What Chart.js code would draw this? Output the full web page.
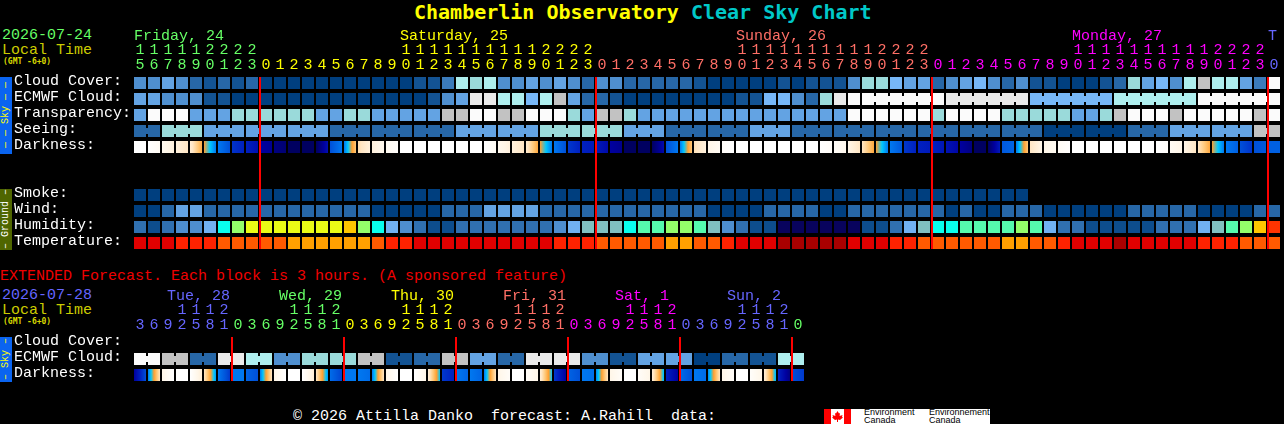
<!DOCTYPE html>
<html>
<head>
<meta charset="utf-8">
<title>Chamberlin Observatory Clear Sky Chart</title>
<script src="https://cdn.jsdelivr.net/npm/chart.js@4"></script>
<style>
    html, body { margin: 0; padding: 0; background: #000; width: 1284px; height: 424px; overflow: hidden; }
    canvas { position: absolute; left: 0; }
    .t { position: absolute; font: 15px/15px "Liberation Mono", monospace; white-space: pre; }
    .tiny { font: bold 8px/8px "DejaVu Sans Mono", monospace; color: #d8d800; }
    .side { position: absolute; left: 0; width: 12px; display: flex; align-items: center; justify-content: center;
            font: 10px/12px "Liberation Mono", monospace; white-space: pre; }
    .side span { writing-mode: vertical-rl; transform: rotate(180deg); }
    .logo { position: absolute; left: 824px; top: 409px; width: 166px; height: 15px; background: #fff; overflow: hidden; }
    .logo i { position: absolute; top: 0; width: 7px; height: 15px; background: #f00; }
    .logo svg { position: absolute; left: 8px; top: 2px; }
    .logo b { position: absolute; top: 0; font: 9px/7.5px "Liberation Sans", sans-serif; color: #000; white-space: pre; }
</style>
</head>
<body>
<div class="t" style="left:414px;top:0;font:bold 20px/24px 'DejaVu Sans Mono',monospace;color:#ffff00">Chamberlin Observatory <span style="color:#00c8c8">Clear Sky Chart</span></div>
<div class="t" style="left:2px;top:28px;color:#66ff66">2026-07-24</div>
<div class="t" style="left:2px;top:43px;color:#cccc00">Local Time</div>
<div class="t tiny" style="left:3px;top:58px">(GMT -6+0)</div>
<div class="side" style="top:77px;height:77px;background:#0a64f0;color:#ffff00"><span>— — Sky — —</span></div>
<div class="side" style="top:189px;height:61px;background:#4f6600;color:#fff"><span>– Ground –</span></div>
<div class="t" style="left:0;top:269px;color:#f00000">EXTENDED Forecast. Each block is 3 hours. (A sponsored feature)</div>
<div class="t" style="left:2px;top:288px;color:#6666ff">2026-07-28</div>
<div class="t" style="left:2px;top:303px;color:#cccc00">Local Time</div>
<div class="t tiny" style="left:3px;top:318px">(GMT -6+0)</div>
<div class="side" style="top:337px;height:45px;background:#0a64f0;color:#ffff00"><span>– Sky –</span></div>
<div class="t" style="left:293px;top:409px;color:#fff">© 2026 Attilla Danko  forecast: A.Rahill  data:</div>
<div class="logo">
    <i style="left:0"></i><i style="left:20px"></i>
    <svg width="11" height="11" viewBox="0 0 11 11"><path fill="#f00" d="M5.5 0 7 2.5 8 2 7.6 5 10.5 4 10 6 11 6.500 8 9 6 8.500V11H5V8.500L3 9 0 6.500 1 6 .5 4 3.400 5 3 2 4 2.500z"/></svg>
    <b style="left:40px">Environment
Canada</b>
    <b style="left:105px">Environnement
Canada</b>
</div>
<canvas id="mainChart" width="1284" height="260" style="top:0"></canvas>
<canvas id="extChart" width="1284" height="127" style="top:265px"></canvas>

<script>
// Forecast data
const mainHours = [15, 16, 17, 18, 19, 20, 21, 22, 23,
    0, 1, 2, 3, 4, 5, 6, 7, 8, 9, 10, 11, 12, 13, 14, 15, 16, 17, 18, 19, 20, 21, 22, 23,
    0, 1, 2, 3, 4, 5, 6, 7, 8, 9, 10, 11, 12, 13, 14, 15, 16, 17, 18, 19, 20, 21, 22, 23,
    0, 1, 2, 3, 4, 5, 6, 7, 8, 9, 10, 11, 12, 13, 14, 15, 16, 17, 18, 19, 20, 21, 22, 23,
    0];
const mainDayNames = ['Friday, 24', 'Saturday, 25', 'Sunday, 26', 'Monday, 27', 'T'];
const mainDayCols = [0, 19, 43, 67, 81];
const mainRows = ['Cloud Cover:', 'ECMWF Cloud:', 'Transparency:', 'Seeing:', 'Darkness:', '', '', 'Smoke:', 'Wind:', 'Humidity:', 'Temperature:'];

const cloudCover = [4, 4, 5, 4, 2, 1, 2, 1, 2, 0,
    0, 0, 0, 0, 0, 0, 0, 0, 0, 0,
    1, 1, 3, 8, 7, 8, 4, 4, 5, 4,
    5, 4, 2, 4, 4, 2, 2, 2, 2, 2,
    1, 0, 0, 0, 0, 0, 1, 0, 1, 1,
    1, 4, 7, 7, 6, 5, 5, 2, 4, 5,
    6, 4, 2, 4, 1, 1, 0, 0, 0, 1,
    2, 7, 5, 6, 4, 8, 9, 8, 8, 5, 3, 11];
const ecmwfCloud = [5, 5, 4, 4, 4, 1, 1, 0, 0, 0,
    0, 0, 0, 0, 0, 0, 0, 0, 0, 0,
    0, 1, 4, 5, 10, 10, 8, 8, 6, 8,
    9, 5, 2, 2, 1, 0, 0, 0, 0, 0,
    0, 0, 0, 1, 1, 6, 6, 4, 2, 7,
    10, 11, 11, 11, 11, 11, 11, 11, 10, 10,
    10, 10, 10, 10, 6, 6, 6, 6, 6, 6,
    8, 8, 8, 8, 8, 8, 11, 11, 11, 11, 11, 11];
const transparency = [5, 11, 11, 11, 5, 5, 5, 7, 7, 7,
    7, 7, 7, 5, 5, 7, 7, 5, 5, 5,
    5, 5, 9, 9, 11, 11, 9, 9, 11, 11,
    11, 7, 5, 9, 9, 7, 5, 5, 5, 5,
    5, 5, 5, 5, 5, 5, 5, 5, 5, 5,
    5, 11, 11, 11, 11, 11, 11, 7, 11, 11,
    11, 11, 7, 7, 7, 7, 7, 5, 5, 7,
    9, 11, 11, 11, 9, 11, 11, 11, 11, 11, 9, 11];
const seeing = [2, 2, 7, 7, 7, 5, 5, 5, 5, 5,
    5, 5, 5, 5, 2, 2, 2, 2, 2, 2,
    2, 2, 2, 5, 5, 5, 5, 5, 5, 7,
    7, 7, 7, 7, 7, 5, 5, 5, 2, 2,
    2, 2, 2, 2, 5, 5, 5, 2, 2, 2,
    2, 2, 2, 2, 2, 2, 2, 2, 2, 2,
    2, 2, 2, 2, 2, 0, 0, 0, 0, 0,
    0, 2, 2, 2, 5, 5, 5, 5, 5, 5, 9, 9];
const darkFrom = [0, 0, 0.7, 1.3, 1.5, 4, 6, 7.6, 8, 9,
    9.5, 10, 10, 10, 7, 6, 2.3, 1.3, 0.6, 0,
    0, 0, 0, 0, 0, 0, 0.7, 1.3, 1.7, 4,
    6, 7.5, 8, 8.2, 9, 10, 10, 10, 7, 6,
    2.2, 1, 0.3, 0, 0, 0, 0, 0, 0, 0,
    0.3, 1, 2, 4, 6, 7.5, 8, 8, 8.4, 9,
    10, 10, 6.8, 6, 2, 1, 0.5, 0, 0, 0,
    0, 0, 0, 0, 0.5, 1, 2, 4, 6, 7, 7, 6.6];
const darkTo = [0, 0.5, 1.3, 2, 3.7, 6, 7, 8, 8.5, 9.2,
    9.7, 10, 10, 8.5, 6, 3, 1.3, 0.8, 0.2, 0,
    0, 0, 0, 0, 0, 0.5, 1.3, 2, 3.8, 6,
    7, 8, 8.2, 8.7, 9.3, 10, 10, 8.7, 6, 3,
    1.3, 0.5, 0, 0, 0, 0, 0, 0, 0, 0.3,
    0.8, 2, 3.8, 6, 6.8, 8, 8.2, 8.3, 8.8, 9.5,
    10, 8.2, 6.5, 3, 1, 0.6, 0.1, 0, 0, 0,
    0, 0, 0, 0.2, 1, 2, 3.8, 6, 6.6, 7.6, 6.8, 6.6];
const smoke = [0, 0, 0, 0, 0, 0, 0, 0, 0, 0,
    0, 0, 0, 0, 0, 0, 0, 0, 0, 0,
    0, 0, 0, 0, 0, 0, 0, 0, 0, 0,
    0, 0, 0, 0, 0, 0, 0, 0, 0, 0,
    0, 0, 0, 0, 0, 0, 0, 0, 0, 0,
    0, 0, 0, 0, 0, 0, 0, 0, 0, 0,
    0, 0, 0, 0];
const wind = [0, 0, 2, 5, 5, 2, 2, 2, 2, 2,
    2, 2, 2, 2, 2, 2, 2, 0, 0, 0,
    0, 0, 2, 2, 2, 5, 5, 5, 5, 2,
    2, 2, 2, 2, 2, 2, 2, 2, 2, 2,
    2, 0, 0, 0, 0, 2, 2, 2, 2, 0,
    0, 2, 2, 2, 2, 2, 2, 2, 0, 2,
    0, 0, 2, 2, 2, 0, 0, 0, 0, 0,
    0, 2, 2, 2, 2, 2, 0, 0, 0, 0, 2, 2];
const humidity = [2, 1, 2, 3, 3, 4, 6, 8, 9, 9,
    9, 9, 9, 9, 9, 10, 8, 6, 4, 3,
    2, 1, 1, 2, 2, 2, 2, 2, 2, 2,
    3, 4, 5, 5, 5, 6, 7, 7, 8, 8,
    7, 5, 3, 2, 1, 1, 0, 0, 0, 0,
    0, 0, 1, 1, 2, 4, 5, 6, 6, 7,
    7, 7, 7, 8, 7, 4, 2, 2, 1, 1,
    1, 1, 1, 2, 2, 2, 4, 5, 7, 8, 10, 12];
const temperature = [1, 1, 1, 2, 2, 2, 3, 3, 3, 3,
    3, 4, 4, 4, 4, 4, 4, 3, 2, 2,
    1, 1, 1, 1, 1, 1, 1, 1, 1, 1,
    2, 2, 2, 3, 3, 3, 3, 3, 4, 4,
    3, 3, 2, 1, 1, 1, 0, 0, 0, 0,
    0, 1, 1, 1, 2, 2, 3, 3, 3, 3,
    3, 3, 4, 4, 3, 3, 2, 1, 1, 1,
    0, 1, 1, 1, 1, 1, 2, 2, 2, 3, 3, 3];

const extHours = [3, 6, 9, 12, 15, 18, 21,
    0, 3, 6, 9, 12, 15, 18, 21,
    0, 3, 6, 9, 12, 15, 18, 21,
    0, 3, 6, 9, 12, 15, 18, 21,
    0, 3, 6, 9, 12, 15, 18, 21,
    0, 3, 6, 9, 12, 15, 18, 21,
    0];
const extDayNames = ['Tue, 28', 'Wed, 29', 'Thu, 30', 'Fri, 31', 'Sat, 1', 'Sun, 2'];
const extDayCols = [2, 10, 18, 26, 34, 42];
const extRows = ['Cloud Cover:', 'ECMWF Cloud:', 'Darkness:'];
const extEcmwf = [11, 11, 9, 9, 2, 2, 10, 10, 8, 8, 4, 4, 7, 7, 7, 7, 9, 9, 1, 1, 2, 2, 9, 9,
    5, 5, 2, 2, 10, 10, 10, 10, 4, 4, 1, 1, 5, 5, 5, 5, 0, 0, 2, 2, 1, 1, 8, 8];
const extDarkFrom = [9, 6, 1, 0, 0, 2, 6, 6, 6.5, 6, 1, 0, 0, 2, 6.3, 6, 6, 6, 1, 0, 0, 1.5, 7.5, 6,
    6, 6, 1, 0, 0.3, 1.5, 7.5, 6.5, 6, 5.8, 1, 0, 0.3, 1.5, 8, 6.3, 6, 5.8, 1, 0, 0.2, 1.5, 8, 7];
const extDarkTo = [7, 2, 0, 0, 1.5, 5.6, 7.5, 6, 7, 2, 0, 0, 1.5, 5.6, 7.3, 6, 6.3, 2, 0, 0, 1, 5, 8, 6.5,
    6.5, 2, 0.3, 0, 1, 5, 9, 7, 6.2, 2, 0.3, 0, 1, 5.2, 9, 7, 6.3, 2, 0.3, 0, 1, 5.3, 9.5, 7.5];

// Colour scales
const cloudColors = ['#003f7f', '#135393', '#2767a7', '#3b7bbb', '#4f8fcf', '#63a3e3', '#77b7f7', '#9adada', '#aeeeee', '#c2c2c2', '#eaeaea', '#fbfbfb'];
const humidityColors = ['#08035d', '#0d4d8d', '#3070b0', '#4e8ece', '#71b1f1', '#80c0c0', '#09feed', '#55faad', '#94fe6a', '#eafb16', '#fec600', '#fc8602', '#fe3401'];
const tempColors = ['#a80000', '#e10000', '#fe2200', '#ff5a00', '#ffa000'];
const darkRamp = ['#ffffff', '#fff6e8', '#ffe6c4', '#ffc878', '#ffa030', '#00c8ff', '#0078f0', '#0050d8', '#0020c0', '#0000a0', '#000060'];
const mainBandColors = ['#66ff66', '#ffff00', '#ff6f66', '#ff00ff', '#6666ff'];
const extBandColors = ['#6666ff', '#66ff66', '#ffff00', '#ff6f66', '#ff00ff', '#6666ff', '#66ff66'];

const COL_PX = 14;
const CELL_PX = 12;
const ROW_PX = 16;
const HALF_CELL = CELL_PX / ROW_PX / 2;
const HALF_BRIDGE = 0.19;
const FONT = '"Liberation Mono", monospace';

function hex(c) {
    return [1, 3, 5].map(p => parseInt(c.substr(p, 2), 16));
}

function levelColor(level) {
    const lo = Math.floor(level);
    const hi = Math.ceil(level);
    const a = hex(darkRamp[lo]);
    const b = hex(darkRamp[hi]);
    const f = level - lo;
    return 'rgb(' + a.map((v, k) => Math.round(v + (b[k] - v) * f)).join(',') + ')';
}

// Horizontal gradient for one darkness block, passing through every ramp colour on the way
function darkFill(c, from, to) {
    const i = c.dataIndex;
    if (i === undefined || from[i] === undefined) return '#000';
    const a = from[i];
    const b = to[i];
    if (a === b) return levelColor(a);
    const x = c.chart.scales.x.getPixelForValue(i);
    if (!isFinite(x)) return levelColor(a); // controller reset runs before the layout
    const grad = c.chart.ctx.createLinearGradient(x - CELL_PX / 2, 0, x + CELL_PX / 2, 0);
    const levels = [a, b];
    for (let l = Math.ceil(Math.min(a, b)); l <= Math.max(a, b); l++) levels.push(l);
    levels.forEach(l => grad.addColorStop((l - a) / (b - a), levelColor(l)));
    return grad;
}

function cellRow(row, values, colors) {
    return {
        data: values.map(v => (v === null ? null : [row - HALF_CELL, row + HALF_CELL])),
        backgroundColor: values.map(v => colors[v]),
        barThickness: CELL_PX,
        order: 3
    };
}

function darkRow(row, from, to) {
    return {
        data: from.map(() => [row - HALF_CELL, row + HALF_CELL]),
        backgroundColor: c => darkFill(c, from, to),
        barThickness: CELL_PX,
        order: 3
    };
}

// Thin connectors between blocks of one forecast period, on the column boundary axis
function bridgeRow(row, values, colors, isJoined) {
    const pts = [];
    const fill = [];
    values.forEach((v, i) => {
        if (i > 0 && isJoined(i)) {
            pts.push({ x: i, y: [row - HALF_BRIDGE, row + HALF_BRIDGE] });
            fill.push(colors[v]);
        }
    });
    return { xAxisID: 'xEdge', data: pts, backgroundColor: fill, barThickness: COL_PX - CELL_PX, order: 2 };
}

// Red midnight markers; they sit one pixel right of the gap between blocks
function midnightLines(hours, firstRow, lastRow) {
    const pts = [];
    hours.forEach((h, i) => {
        if (h === 0) pts.push({ x: i + 1 / COL_PX, y: [firstRow - HALF_CELL, lastRow + HALF_CELL] });
    });
    return { xAxisID: 'xEdge', data: pts, backgroundColor: '#ff0000', barThickness: 2, order: 1 };
}

const dayLabels = {
    id: 'dayLabels',
    afterDraw(chart, args, opts) {
        const ctx = chart.ctx;
        ctx.save();
        ctx.font = '15px ' + FONT;
        ctx.textAlign = 'left';
        ctx.textBaseline = 'alphabetic';
        opts.names.forEach((name, k) => {
            const col = opts.cols[k];
            ctx.fillStyle = opts.colorAt(col);
            ctx.fillText(name, chart.scales.x.getPixelForValue(col) + opts.nudge, opts.baseline);
        });
        ctx.restore();
    }
};

function buildChart(id, hours, rows, datasets, bandColors, axisHeight, dayOpts) {
    // colour of a column follows the day it falls in
    const colorAt = i => {
        let band = 0;
        for (let k = 1; k <= i; k++) if (hours[k] === 0) band++;
        return bandColors[band];
    };
    return new Chart(document.getElementById(id), {
        type: 'bar',
        plugins: [dayLabels],
        data: {
            labels: hours.map(h => (h < 10 ? ['', String(h)] : [String(Math.floor(h / 10)), String(h % 10)])),
            datasets: datasets
        },
        options: {
            responsive: false,
            animation: false,
            devicePixelRatio: 1,
            events: [],
            layout: { padding: { left: 14, right: 1284 - 133 - hours.length * COL_PX, top: 0, bottom: 9 } },
            datasets: { bar: { grouped: false, inflateAmount: 0, borderWidth: 0 } },
            plugins: {
                legend: { display: false },
                tooltip: { enabled: false },
                dayLabels: Object.assign({ colorAt: colorAt }, dayOpts)
            },
            scales: {
                x: {
                    type: 'category',
                    position: 'top',
                    offset: true,
                    grid: { display: false, drawTicks: false },
                    border: { display: false },
                    afterFit: s => { s.height = axisHeight; },
                    ticks: {
                        autoSkip: false,
                        maxRotation: 0,
                        padding: 2,
                        color: c => colorAt(c.index),
                        font: { family: FONT, size: 15, lineHeight: 1 }
                    }
                },
                xEdge: {
                    type: 'linear',
                    display: false,
                    position: 'top',
                    offset: false,
                    min: 0,
                    max: hours.length
                },
                y: {
                    type: 'linear',
                    reverse: true,
                    min: -0.5,
                    max: rows.length - 0.5,
                    grid: { display: false, drawTicks: false },
                    border: { display: false },
                    afterFit: s => { s.width = 119; },
                    afterBuildTicks: s => { s.ticks = rows.map((_, v) => ({ value: v })); },
                    ticks: {
                        autoSkip: false,
                        crossAlign: 'far',
                        padding: 0,
                        labelOffset: -2,
                        color: '#ffffff',
                        font: { family: FONT, size: 15, lineHeight: 1 },
                        callback: v => rows[v]
                    }
                }
            }
        }
    });
}

document.addEventListener('DOMContentLoaded', () => {
    const mainSets = [
        midnightLines(mainHours, 0, 10),
        cellRow(0, cloudCover, cloudColors),
        cellRow(1, ecmwfCloud, cloudColors),
        bridgeRow(1, ecmwfCloud, cloudColors, j => j >= 53 && (j - 52) % 6 !== 0),
        cellRow(2, transparency, cloudColors),
        cellRow(3, seeing, cloudColors),
        bridgeRow(3, seeing, cloudColors, j => (j + 1) % 3 !== 0),
        darkRow(4, darkFrom, darkTo),
        cellRow(7, smoke, cloudColors),
        cellRow(8, wind, cloudColors),
        cellRow(9, humidity, humidityColors),
        cellRow(10, temperature, tempColors)
    ];
    buildChart('mainChart', mainHours, mainRows, mainSets, mainBandColors, 75,
        { names: mainDayNames, cols: mainDayCols, nudge: -6, baseline: 40 });

    const extSets = [
        midnightLines(extHours, 0, 2),
        cellRow(1, extEcmwf, cloudColors),
        bridgeRow(1, extEcmwf, cloudColors, j => j % 2 === 1),
        darkRow(2, extDarkFrom, extDarkTo)
    ];
    buildChart('extChart', extHours, extRows, extSets, extBandColors, 70,
        { names: extDayNames, cols: extDayCols, nudge: -1, baseline: 35 });
});
</script>
</body>
</html>
